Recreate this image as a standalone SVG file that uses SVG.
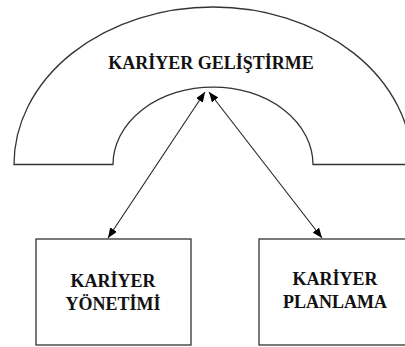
<svg xmlns="http://www.w3.org/2000/svg" width="405" height="347" viewBox="0 0 405 347">
  <defs>
    <marker id="ah" viewBox="0 0 10 8" refX="10" refY="4" markerWidth="10" markerHeight="8" markerUnits="userSpaceOnUse" orient="auto-start-reverse">
      <path d="M0,0 L10,4 L0,8 z" fill="#000"/>
    </marker>
    <style>
      .shape { fill: #fff; stroke: #333; stroke-width: 1.3; }
      .lbl { font-family: "Liberation Serif", "Times New Roman", serif; font-weight: bold; font-size: 18px; fill: #111; text-anchor: middle; }
      .conn { stroke: #222; stroke-width: 1.1; fill: none; marker-start: url(#ah); marker-end: url(#ah); }
    </style>
  </defs>
  <rect width="405" height="347" fill="#fff"/>
  <g id="kariyer-gelistirme">
    <path class="shape" d="M14,164.5 A199,157.5 0 0 1 412,164.5 L313,164.5 A100,77.5 0 0 0 113,164.5 Z"/>
    <text class="lbl" x="211" y="69">KARİYER GELİŞTİRME</text>
  </g>
  <g id="kariyer-yonetimi">
    <rect class="shape" x="36" y="239" width="155" height="106"/>
    <text class="lbl" x="113" y="287">KARİYER</text>
    <text class="lbl" x="113" y="310">YÖNETİMİ</text>
  </g>
  <g id="kariyer-planlama">
    <rect class="shape" x="259" y="239" width="150" height="106"/>
    <text class="lbl" x="335" y="285">KARİYER</text>
    <text class="lbl" x="335" y="308">PLANLAMA</text>
  </g>
  <g id="connectors">
    <line class="conn" x1="205" y1="92" x2="108" y2="238"/>
    <line class="conn" x1="209" y1="92" x2="322" y2="238"/>
  </g>
</svg>
